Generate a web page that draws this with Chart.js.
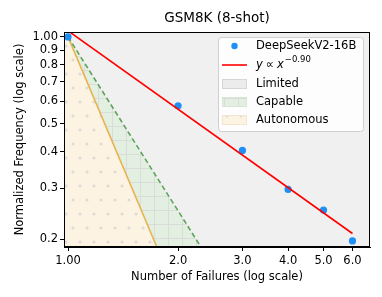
<!DOCTYPE html>
<html>
<head>
<meta charset="utf-8">
<script src="https://cdn.jsdelivr.net/npm/chart.js@4"></script>
<style>
  html, body { margin: 0; padding: 0; background: #fff; }
  #wrap { width: 382px; height: 297px; }
</style>
</head>
<body>
<div id="wrap"><canvas id="chart" width="382" height="297"></canvas></div>
<script>
// Data
const failures = [1, 2, 3, 4, 5, 6];
const frequency = [1.0, 0.578, 0.405, 0.297, 0.252, 0.197];

// power-law fit y ∝ x^-0.90 (end points)
const fitX = [1, 6];
const fitY = [1.05, 0.209];

// region boundaries (end points on the log-log plot)
const capableX = [0.975, 1, 2.31];
const capableY = [1.05, 1.0, 0.1877];
const autonomousX = [0.975, 1, 1.75];
const autonomousY = [1.077, 1.0, 0.1877];

const xTicks = [1, 2, 3, 4, 5, 6];
const xTickLabels = ['1.00', '2.0', '3.0', '4.0', '5.0', '6.0'];
const yTicks = [0.2, 0.3, 0.4, 0.5, 0.6, 0.7, 0.8, 0.9, 1.0];
const yTickLabels = ['0.2', '0.3', '0.4', '0.5', '0.6', '0.7', '0.8', '0.9', '1.00'];

const FONT = 'DejaVu Sans';

function pts(xs, ys) {
  return xs.map((x, i) => ({ x: x, y: ys[i] }));
}

// hatch patterns
function gridPattern() {
  const c = document.createElement('canvas');
  c.width = 14; c.height = 14;
  const g = c.getContext('2d');
  g.fillStyle = '#e3f0e1';
  g.fillRect(0, 0, 14, 14);
  g.strokeStyle = '#d9dcd9';
  g.lineWidth = 1;
  g.beginPath();
  g.moveTo(0.5, 0); g.lineTo(0.5, 14);
  g.moveTo(0, 0.5); g.lineTo(14, 0.5);
  g.stroke();
  return g.createPattern(c, 'repeat');
}

function dotPattern() {
  const c = document.createElement('canvas');
  c.width = 14; c.height = 28;
  const g = c.getContext('2d');
  g.fillStyle = '#fdf3e3';
  g.fillRect(0, 0, 14, 28);
  g.fillStyle = '#dedbd6';
  [[3, 4], [10, 18]].forEach(([x, y]) => {
    g.beginPath();
    g.arc(x, y, 1.6, 0, Math.PI * 2);
    g.fill();
  });
  return g.createPattern(c, 'repeat');
}

const greenFill = gridPattern();
const orangeFill = dotPattern();

// background, frame, title and legend
const decorPlugin = {
  id: 'decor',
  beforeDatasetsDraw(chart) {
    const { ctx, chartArea: a } = chart;
    ctx.save();
    ctx.fillStyle = '#f0f0f0';
    ctx.fillRect(a.left, a.top, a.right - a.left, a.bottom - a.top);
    ctx.restore();
  },
  afterDraw(chart) {
    const { ctx, chartArea: a } = chart;
    ctx.save();
    ctx.strokeStyle = '#000';
    ctx.lineWidth = 1;
    ctx.strokeRect(a.left + 0.5, a.top + 0.5, a.right - a.left - 1, a.bottom - a.top - 1);

    // title
    ctx.fillStyle = '#000';
    ctx.font = '13.5px "' + FONT + '"';
    ctx.textAlign = 'center';
    ctx.textBaseline = 'middle';
    ctx.fillText('GSM8K (8-shot)', (a.left + a.right) / 2, 18);

    // legend
    const lx = 218, ly = 37, lw = 145, lh = 94;
    ctx.fillStyle = 'rgba(255,255,255,0.85)';
    ctx.strokeStyle = '#d0d0d0';
    ctx.beginPath();
    ctx.roundRect(lx + 0.5, ly + 0.5, lw, lh, 3);
    ctx.fill();
    ctx.stroke();

    const rowY = [46, 65, 84, 102, 120];
    const hx = 222, hw = 25, tx = 256;
    ctx.font = '11.5px "' + FONT + '"';
    ctx.textAlign = 'left';
    ctx.textBaseline = 'middle';

    // scatter
    ctx.fillStyle = '#1e8ff5';
    ctx.beginPath();
    ctx.arc(hx + hw / 2, rowY[0], 3.2, 0, Math.PI * 2);
    ctx.fill();
    ctx.fillStyle = '#000';
    ctx.fillText('DeepSeekV2-16B', tx, rowY[0]);

    // fit line
    ctx.strokeStyle = '#ff0000';
    ctx.lineWidth = 1.6;
    ctx.beginPath();
    ctx.moveTo(hx, rowY[1]); ctx.lineTo(hx + hw, rowY[1]);
    ctx.stroke();
    ctx.fillStyle = '#000';
    let x = tx;
    ctx.font = 'italic 11.5px "' + FONT + '"';
    ctx.fillText('y', x, rowY[1]); x += ctx.measureText('y').width + 3;
    ctx.font = '11.5px "' + FONT + '"';
    ctx.fillText('\u221d', x, rowY[1]); x += ctx.measureText('\u221d').width + 3;
    ctx.font = 'italic 11.5px "' + FONT + '"';
    ctx.fillText('x', x, rowY[1]); x += ctx.measureText('x').width + 1;
    ctx.font = '8.5px "' + FONT + '"';
    ctx.fillText('\u22120.90', x, rowY[1] - 5);

    // patches
    const patches = [
      ['Limited', '#ececec', '#d6d6d6'],
      ['Capable', greenFill, '#d6e6d4'],
      ['Autonomous', orangeFill, '#f3e6d0']
    ];
    patches.forEach(([label, fill, edge], i) => {
      const y = rowY[i + 2];
      ctx.fillStyle = fill;
      ctx.fillRect(hx, y - 4.5, hw, 9);
      ctx.strokeStyle = edge;
      ctx.lineWidth = 1;
      ctx.strokeRect(hx + 0.5, y - 4.5, hw - 1, 9);
      ctx.fillStyle = '#000';
      ctx.font = '11.5px "' + FONT + '"';
      ctx.fillText(label, tx, y);
    });
    ctx.restore();
  }
};

new Chart(document.getElementById('chart'), {
  type: 'scatter',
  data: {
    datasets: [
      {
        label: 'y ∝ x^-0.90',
        type: 'line',
        data: pts(fitX, fitY),
        borderColor: '#ff0000',
        borderWidth: 1.6,
        pointRadius: 0,
        fill: false,
        order: 0
      },
      {
        label: 'DeepSeekV2-16B',
        data: pts(failures, frequency),
        backgroundColor: '#1e8ff5',
        borderWidth: 0,
        pointRadius: 3.6,
        order: 1
      },
      {
        label: 'Capable line',
        type: 'line',
        data: pts(capableX.slice(1), capableY.slice(1)),
        borderColor: '#5ea35c',
        borderWidth: 1.6,
        borderDash: [5, 3],
        pointRadius: 0,
        fill: false,
        order: 2
      },
      {
        label: 'Autonomous line',
        type: 'line',
        data: pts(autonomousX.slice(1), autonomousY.slice(1)),
        borderColor: '#e8b352',
        borderWidth: 1.6,
        pointRadius: 0,
        fill: false,
        order: 3
      },
      {
        label: 'Autonomous',
        type: 'line',
        data: pts(autonomousX, autonomousY),
        borderWidth: 0,
        pointRadius: 0,
        backgroundColor: orangeFill,
        fill: 'start',
        order: 4
      },
      {
        label: 'Capable',
        type: 'line',
        data: pts(capableX, capableY),
        borderWidth: 0,
        pointRadius: 0,
        backgroundColor: greenFill,
        fill: 'start',
        order: 5
      }
    ]
  },
  options: {
    responsive: false,
    animation: false,
    layout: { padding: { left: 0, right: 12, top: 32, bottom: 0 } },
    plugins: {
      legend: { display: false },
      tooltip: { enabled: false },
      title: { display: false }
    },
    scales: {
      x: {
        type: 'logarithmic',
        min: 0.975,
        max: 6.7,
        afterBuildTicks: (s) => { s.ticks = xTicks.map(v => ({ value: v })); },
        afterFit: (s) => { s.height = 50; },
        ticks: {
          autoSkip: false,
          maxRotation: 0,
          padding: 3,
          color: '#000',
          font: { family: FONT, size: 11.5 },
          callback: (v) => xTickLabels[xTicks.indexOf(v)]
        },
        grid: { drawOnChartArea: false, drawTicks: true, tickLength: 4, color: '#000' },
        border: { display: true, color: '#000' },
        title: {
          display: true,
          text: 'Number of Failures (log scale)',
          color: '#000',
          font: { family: FONT, size: 11.5 },
          padding: { top: 0, bottom: 13 }
        }
      },
      y: {
        type: 'logarithmic',
        min: 0.1877,
        max: 1.04,
        afterBuildTicks: (s) => { s.ticks = yTicks.map(v => ({ value: v })); },
        afterFit: (s) => { s.width = 64; },
        ticks: {
          autoSkip: false,
          padding: 2,
          color: '#000',
          font: { family: FONT, size: 11.5 },
          callback: (v) => yTickLabels[yTicks.indexOf(v)]
        },
        grid: { drawOnChartArea: false, drawTicks: true, tickLength: 4, color: '#000' },
        border: { display: true, color: '#000' },
        title: {
          display: true,
          text: 'Normalized Frequency (log scale)',
          color: '#000',
          font: { family: FONT, size: 11.5 },
          padding: { top: 13, bottom: 0 }
        }
      }
    }
  },
  plugins: [decorPlugin]
});
</script>
</body>
</html>
